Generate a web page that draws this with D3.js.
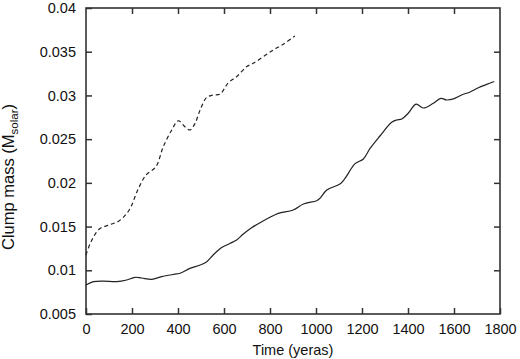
<!DOCTYPE html>
<html>
<head>
<meta charset="utf-8">
<script src="https://cdn.jsdelivr.net/npm/d3@7"></script>
<style>
  body { margin: 0; background: #fff; }
  #chart-container { width: 520px; height: 359px; }
  text { font-family: "Liberation Sans", Arial, sans-serif; }
</style>
</head>
<body>
<div id="chart-container"></div>
<script>
const xTicks = [0, 200, 400, 600, 800, 1000, 1200, 1400, 1600, 1800];
const yTicks = [0.005, 0.01, 0.015, 0.02, 0.025, 0.03, 0.035, 0.04];

// solid curve
const solidTime = [0, 32, 75, 133, 177, 213, 242, 286, 329, 394, 409, 452, 496, 525, 553, 590, 626, 655, 684, 720, 764, 800, 836, 901, 945, 1003, 1017, 1047, 1104, 1126, 1170, 1206, 1235, 1278, 1329, 1351, 1373, 1401, 1435, 1467, 1510, 1543, 1568, 1597, 1633, 1670, 1706, 1742, 1775];
const solidMass = [0.00832, 0.0087, 0.00877, 0.0087, 0.00889, 0.0092, 0.00912, 0.00897, 0.00927, 0.00958, 0.00966, 0.01022, 0.0106, 0.01098, 0.01175, 0.0126, 0.01307, 0.01346, 0.01415, 0.01487, 0.01555, 0.01606, 0.01651, 0.0169, 0.01758, 0.01796, 0.01823, 0.01918, 0.01987, 0.0205, 0.0222, 0.02273, 0.02394, 0.02536, 0.02693, 0.02719, 0.0273, 0.02796, 0.029, 0.02856, 0.0291, 0.02967, 0.02948, 0.0296, 0.03005, 0.0304, 0.03088, 0.03126, 0.0316];

// dashed curve
const dashedTime = [0, 22, 58, 101, 145, 188, 225, 261, 304, 336, 373, 401, 430, 452, 474, 496, 525, 553, 583, 619, 655, 699, 727, 771, 814, 858, 908];
const dashedMass = [0.01175, 0.01327, 0.01472, 0.01518, 0.01567, 0.0169, 0.01918, 0.0209, 0.02185, 0.02414, 0.02605, 0.0271, 0.02642, 0.02605, 0.0268, 0.02833, 0.02978, 0.03005, 0.03016, 0.03146, 0.03215, 0.0333, 0.03367, 0.03443, 0.0352, 0.03585, 0.0368];

const margin = { top: 8, right: 20, bottom: 45, left: 86 };
const width = 520 - margin.left - margin.right;
const height = 359 - margin.top - margin.bottom;

const svg = d3
  .select("#chart-container")
  .append("svg")
  .attr("width", 520)
  .attr("height", 359)
  .append("g")
  .attr("transform", `translate(${margin.left},${margin.top})`);

const x = d3.scaleLinear().domain([0, 1800]).range([0, width]);
const y = d3.scaleLinear().domain([0.005, 0.04]).range([height, 0]);

const axisColor = "#333";
const fontSize = "14.5px";

function styleAxis(g, showText) {
  g.select(".domain").remove();
  g.selectAll(".tick line").attr("stroke", axisColor).attr("stroke-width", 1.5);
  g.selectAll("text")
    .style("font-size", fontSize)
    .attr("fill", "#111")
    .style("opacity", showText ? 1 : 0);
}

const xAxis = svg.append("g")
  .attr("transform", `translate(0,${height})`)
  .call(d3.axisBottom(x).tickValues(xTicks).tickSizeInner(-6).tickSizeOuter(0).tickPadding(10).tickFormat(d3.format("d")));
styleAxis(xAxis, true);

const xTop = svg.append("g")
  .call(d3.axisTop(x).tickValues(xTicks.slice(1, -1)).tickSizeInner(-6).tickSizeOuter(0).tickFormat(""));
styleAxis(xTop, false);

const yAxis = svg.append("g")
  .call(d3.axisLeft(y).tickValues(yTicks).tickSizeInner(-6).tickSizeOuter(0).tickPadding(10).tickFormat(d3.format("")));
styleAxis(yAxis, true);

const yRight = svg.append("g")
  .attr("transform", `translate(${width},0)`)
  .call(d3.axisRight(y).tickValues(yTicks.slice(1, -1)).tickSizeInner(-6).tickSizeOuter(0).tickFormat(""));
styleAxis(yRight, false);

// frame
svg.append("rect")
  .attr("x", 0).attr("y", 0)
  .attr("width", width).attr("height", height)
  .attr("fill", "none")
  .attr("stroke", axisColor)
  .attr("stroke-width", 1.6);

const line = d3.line()
  .x((d) => x(d[0]))
  .y((d) => y(d[1]))
  .curve(d3.curveCatmullRom);

svg.append("path")
  .datum(solidTime.map((t, i) => [t, solidMass[i]]))
  .attr("fill", "none")
  .attr("stroke", "#222")
  .attr("stroke-width", 1.2)
  .attr("d", line);

svg.append("path")
  .datum(dashedTime.map((t, i) => [t, dashedMass[i]]))
  .attr("fill", "none")
  .attr("stroke", "#222")
  .attr("stroke-width", 1.2)
  .attr("stroke-dasharray", "4,3")
  .attr("d", line);

// axis titles
svg.append("text")
  .attr("x", width / 2)
  .attr("y", height + 41)
  .attr("text-anchor", "middle")
  .style("font-size", fontSize)
  .attr("fill", "#111")
  .text("Time (yeras)");

const yTitle = svg.append("text")
  .attr("transform", `translate(${-72},${169}) rotate(-90)`)
  .attr("text-anchor", "middle")
  .style("font-size", "16.5px")
  .attr("fill", "#111");
yTitle.append("tspan").text("Clump mass (M");
yTitle.append("tspan").attr("dy", 4).style("font-size", "11.5px").text("solar");
yTitle.append("tspan").attr("dy", -4).text(")");
</script>
</body>
</html>
